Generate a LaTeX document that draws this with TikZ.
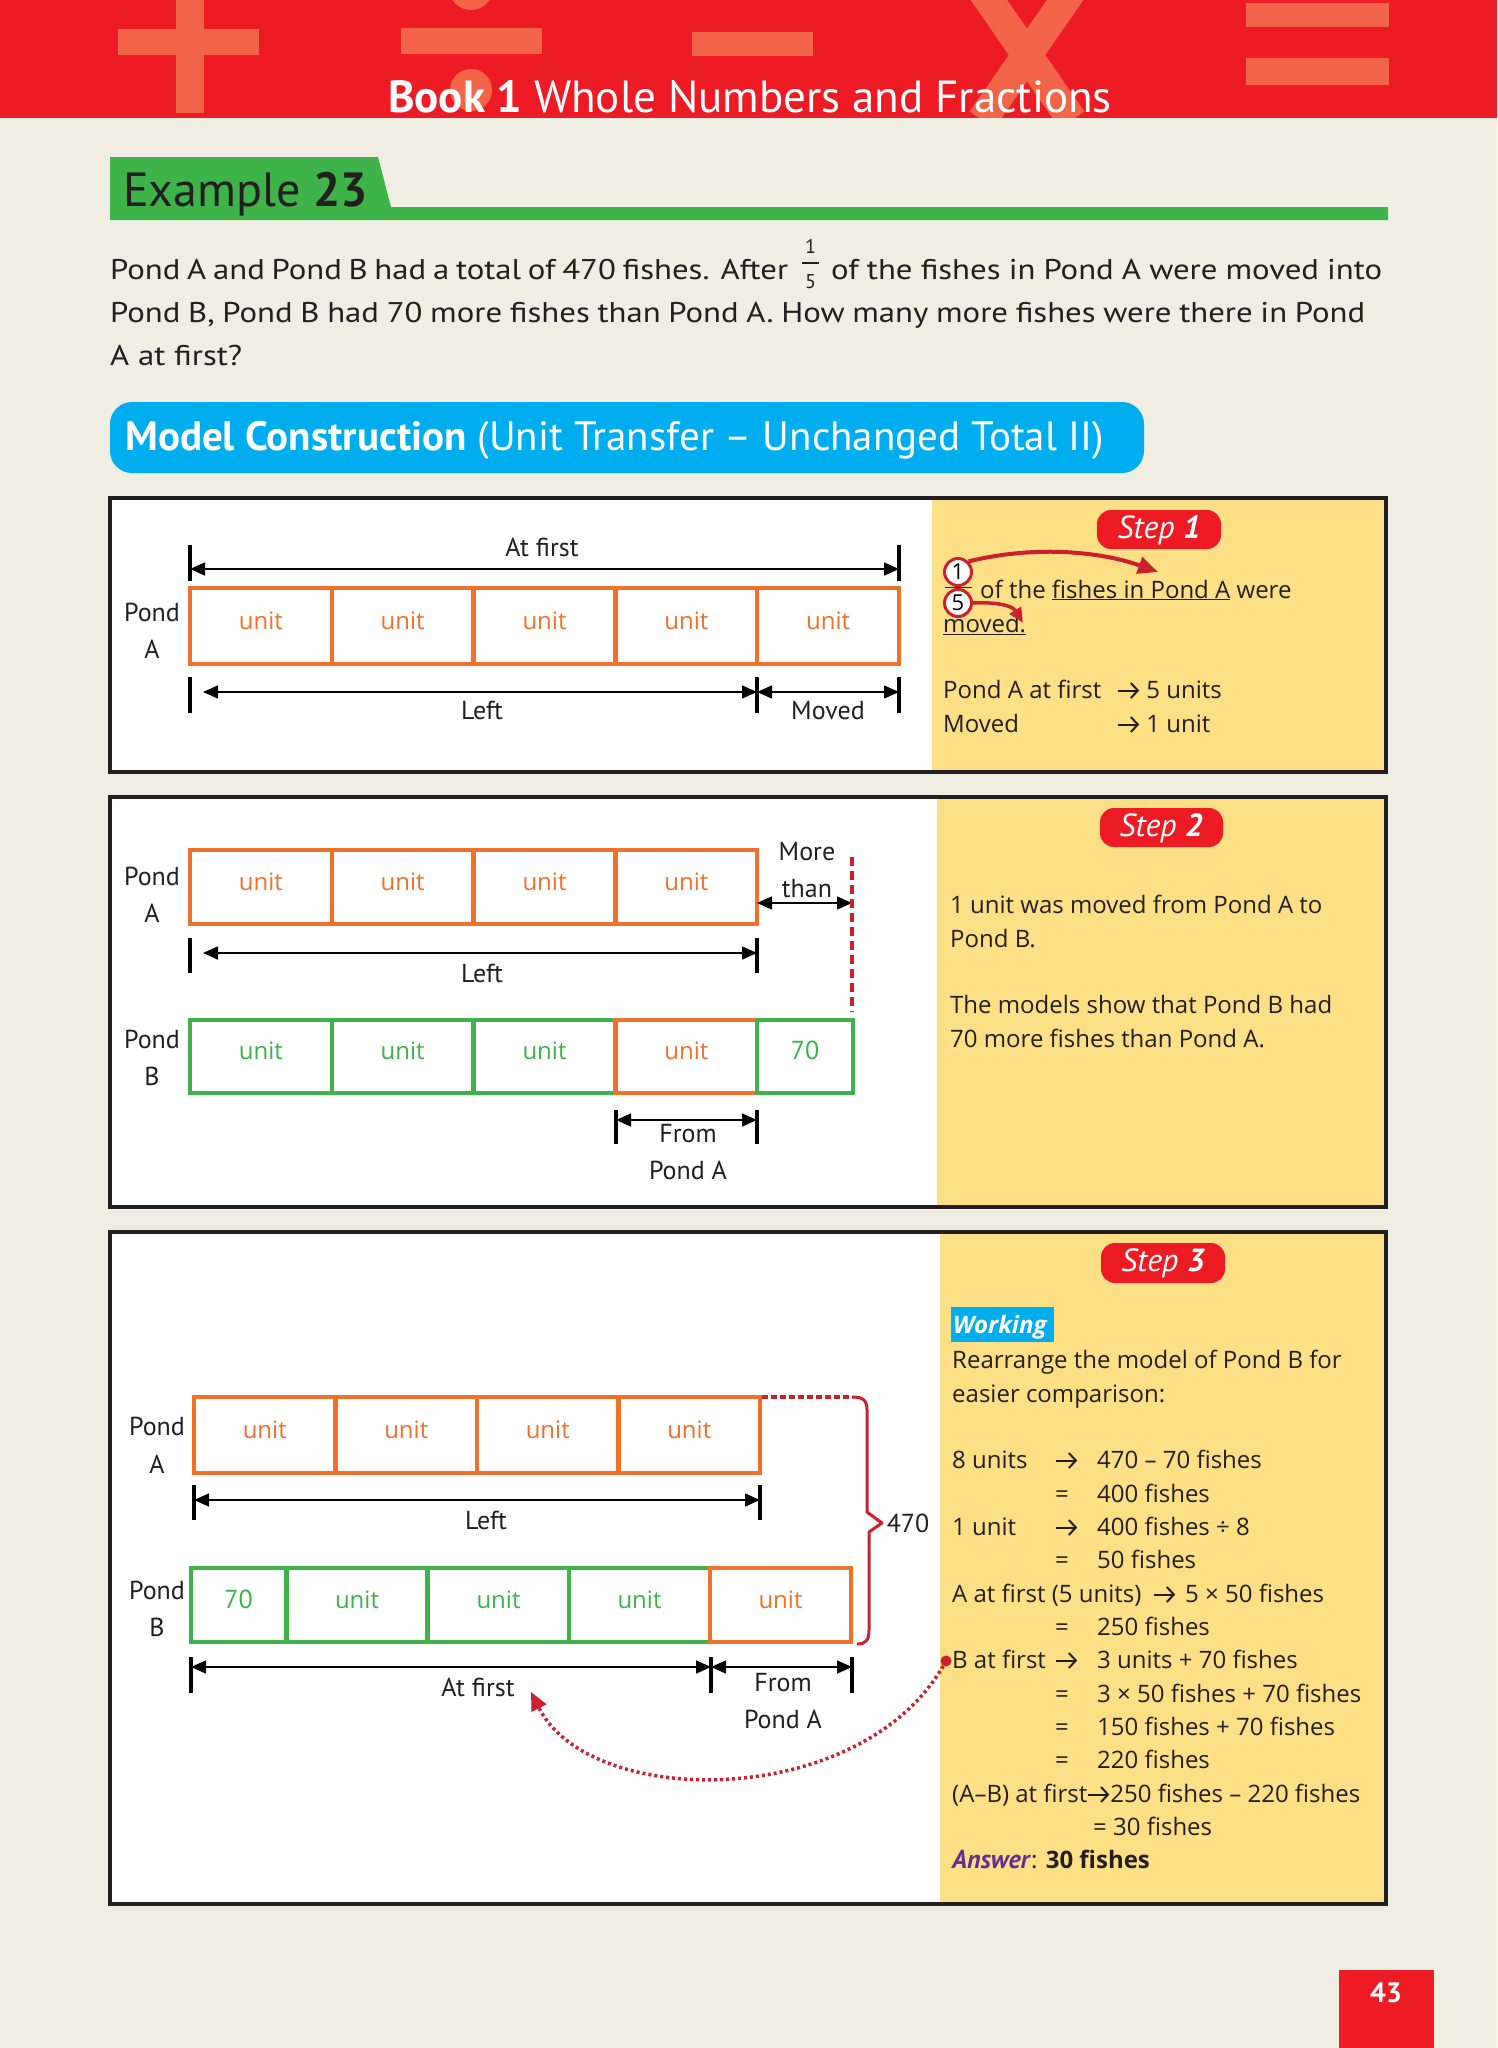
\documentclass[tikz,border=0pt]{standalone}
\usepackage{fontspec}
\setmainfont{PT Sans}
\newfontfamily\os{Open Sans}
\newfontfamily\qf[FakeStretch=1.15]{PT Sans}
\usetikzlibrary{arrows.meta}
\definecolor{bgc}{RGB}{240,238,226}
\definecolor{hred}{RGB}{237,28,36}
\definecolor{sym}{RGB}{242,101,73}
\definecolor{tgreen}{RGB}{61,179,74}
\definecolor{cblue}{RGB}{0,174,239}
\definecolor{uorange}{RGB}{242,112,40}
\definecolor{ugreen}{RGB}{61,179,74}
\definecolor{pyellow}{RGB}{253,224,133}
\definecolor{dred}{RGB}{204,32,46}
\definecolor{apurple}{RGB}{102,45,145}
\definecolor{tblack}{RGB}{35,31,32}
\newcommand\fs[2]{\fontsize{#1}{#2}\selectfont}
\newcommand\arr{\tikz[baseline=0pt,x=1pt,y=1pt]{\path (0,0) -- (23,0);\draw[line width=2pt,-{Straight Barb[length=7pt,width=15pt,line width=2pt]}] (1,7.5) -- (22,7.5);}}
\begin{document}
\begin{tikzpicture}[x=1pt,y=-1pt,
  ubox/.style={draw, line width=4.5pt, inner sep=0pt, minimum height=76pt, font=\os\fs{24}{28}, text height=18pt, text depth=12pt},
  obox/.style={ubox, draw=uorange, text=uorange, minimum width=141.8pt},
  gbox/.style={ubox, draw=ugreen, text=ugreen, minimum width=141.8pt},
  lbl/.style={font=\fs{26}{37}, align=center, inner sep=0pt, text=tblack},
  dimarr/.style={line width=1.5pt, {Triangle[length=15pt,width=13pt]}-{Triangle[length=15pt,width=13pt]}},
  tickln/.style={line width=3.5pt},
  stxt/.style={font=\os\fs{24}{33}, anchor=base west, inner sep=0pt, text=tblack},
  qtxt/.style={font=\qf\fs{28.5}{43}, anchor=base west, inner sep=0pt, text=tblack},
  steppill/.style={fill=hred, rounded corners=14pt},
  pilltxt/.style={white, font=\fs{32}{32}, inner sep=0pt},
  panelbox/.style={line width=3.5pt, draw=tblack},
  redarr/.style={dred, line width=4pt, -{Triangle[length=20pt,width=17pt]}},
  dotarr/.style={dred, line width=3.5pt, dash pattern=on 3pt off 3pt, -{Triangle[length=18pt,width=16pt]}},
]
\useasboundingbox (0,0) rectangle (1497,2048);
\fill[bgc] (0,0) rectangle (1497,2048);
% ---------------- header
\fill[hred] (0,0) rectangle (1497,118);
\begin{scope}
\clip (0,0) rectangle (1497,117);
\fill[sym] (118,29) rectangle (259,55);
\fill[sym] (176,0) rectangle (204,113);
\fill[sym] (401,28) rectangle (542,54);
\fill[sym] (471,-12) circle[radius=22];
\fill[sym] (471,90) circle[radius=21];
\fill[sym] (692,32) rectangle (813,56);
\draw[sym, line width=30pt] (982,-10) -- (1072,120) (1072,-10) -- (982,120);
\fill[sym] (1246,3) rectangle (1389,27);
\fill[sym] (1246,58) rectangle (1389,85);
\end{scope}
\node[white, font=\fs{45}{45}, anchor=base, inner sep=0pt] (hdr) at (750,112) {\textbf{Book 1} Whole Numbers and Fractions};
% ---------------- example tab
\fill[tgreen] (110,157) -- (378,157) -- (391,207) -- (1388,207) -- (1388,220) -- (110,220) -- cycle;
\node[anchor=base west, inner sep=0pt, font=\fs{48}{48}, text=tblack] (ex) at (123,206) {Example \textbf{23}};
% ---------------- question
\node[qtxt] (q1a) at (110,279) {\makebox[678pt][s]{Pond A and Pond B had a total of 470 fishes. After}};
\node[anchor=base, inner sep=0pt, font=\fs{20}{20}, text=tblack] (fn) at (810.5,253) {1};
\node[anchor=base, inner sep=0pt, font=\fs{20}{20}, text=tblack] (fd) at (810.5,288) {5};
\draw[line width=1.2pt, tblack] (802,263) -- (819,263);
\node[qtxt] (q1b) at (831,279) {\makebox[551pt][s]{of the fishes in Pond A were moved into}};
\node[qtxt] (q2) at (110,322) {\makebox[1255pt][s]{Pond B, Pond B had 70 more fishes than Pond A. How many more fishes were there in Pond}};
\node[qtxt] (q3) at (110,365) {A at first?};
% ---------------- model construction pill
\fill[cblue, rounded corners=22pt] (110,402) rectangle (1144,473);
\node[anchor=base west, inner sep=0pt, white, font=\fs{41}{41}] (mc) at (125,450) {\textbf{Model Construction} (Unit Transfer – Unchanged Total II)};
% =============== PANEL 1
\fill[white] (110,498) rectangle (932,772);
\fill[pyellow] (932,498) rectangle (1386,772);
\draw[panelbox] (110,498) rectangle (1386,772);
\foreach \i/\x in {1/260.9,2/402.7,3/544.5,4/686.3,5/828.1}
  \node[obox, minimum height=76pt] (pa\i) at (\x,626) {unit};
\node[lbl] (p1la) at (152,631) {Pond\\A};
\draw[tickln] (190,545) -- (190,581); \draw[tickln] (899,545) -- (899,581);
\coordinate (af1l) at (190,569); \coordinate (af1r) at (899,569);
\draw[dimarr] (af1l) -- (af1r);
\node[lbl, anchor=base] (af1t) at (542,556) {At first};
\draw[tickln] (190,677) -- (190,713); \draw[tickln] (757,677) -- (757,713); \draw[tickln] (899,677) -- (899,713);
\coordinate (lf1l) at (203,692); \coordinate (lf1r) at (757,692); \coordinate (mv1r) at (899,692);
\draw[dimarr] (lf1l) -- (lf1r);
\draw[dimarr] (lf1r) -- (mv1r);
\node[lbl, anchor=base] (lf1t) at (482,719) {Left};
\node[lbl, anchor=base] (mv1t) at (828,719) {Moved};
% step 1
\fill[steppill] (1097,510) rectangle (1221,549);
\node[pilltxt] (s1) at (1159,530) {\textit{Step} \textbf{\textit{1}}};
\node[circle, draw=dred, line width=3pt, fill=white, minimum size=27pt, inner sep=0pt, font=\os\fs{22}{22}] (c1) at (958,572) {1};
\node[circle, draw=dred, line width=3pt, fill=white, minimum size=27pt, inner sep=0pt, font=\os\fs{22}{22}] (c5) at (958,603) {5};
\draw[line width=1.3pt, tblack] (945,587.5) -- (972,587.5);
\node[stxt] (s1a) at (980,598) {of the \underline{fishes in Pond A} were};
\node[stxt] (s1b) at (943,632) {\underline{moved.}};
\coordinate (s1tip) at (1158,572);
\draw[redarr] (c1.north east) .. controls (1040,544) and (1105,553) .. (s1tip);
\coordinate (s1tip2) at (1023,623);
\draw[dred, line width=3.5pt, -{Triangle[length=15pt,width=13pt]}] (c5.east) .. controls (995,602) and (1012,605) .. (s1tip2);
\node[stxt] (s1c) at (943,698) {Pond A at first};
\node[stxt] (s1d) at (1117,698) {\arr\ 5 units};
\node[stxt] (s1e) at (943,732) {Moved};
\node[stxt] (s1f) at (1117,732) {\arr\ 1 unit};
% =============== PANEL 2
\fill[white] (110,797) rectangle (937,1207);
\fill[pyellow] (937,797) rectangle (1386,1207);
\draw[panelbox] (110,797) rectangle (1386,1207);
\foreach \i/\x in {1/260.9,2/402.7,3/544.5,4/686.3}
  \node[obox, minimum height=74pt] (qa\i) at (\x,887) {unit};
\node[lbl] (p2la) at (152,895) {Pond\\A};
\node[lbl] (mt) at (807,870) {More\\than};
\coordinate (mtl) at (757,903); \coordinate (mtr) at (852,903);
\draw[dimarr] (mtl) -- (mtr);
\draw[dred, line width=3.5pt, dash pattern=on 9pt off 5pt] (852,857) -- (852,1012);
\draw[tickln] (190,938) -- (190,973); \draw[tickln] (757,938) -- (757,973);
\coordinate (lf2l) at (203,953); \coordinate (lf2r) at (757,953);
\draw[dimarr] (lf2l) -- (lf2r);
\node[lbl, anchor=base] (lf2t) at (482,982) {Left};
\foreach \i/\x in {1/260.9,2/402.7,3/544.5}
  \node[gbox, minimum height=73pt] (qb\i) at (\x,1056.5) {unit};
\node[obox, minimum height=73pt] (qb4) at (686.3,1056.5) {unit};
\node[gbox, minimum height=73pt, minimum width=96pt, font=\fs{26}{28}] (qb5) at (805,1056.5) {70};
\node[lbl] (p2lb) at (152,1058) {Pond\\B};
\draw[tickln] (616,1110) -- (616,1144); \draw[tickln] (757,1110) -- (757,1144);
\coordinate (fp2l) at (616,1120); \coordinate (fp2r) at (757,1120);
\draw[dimarr] (fp2l) -- (fp2r);
\node[lbl, anchor=north] (fp2t) at (688,1124) {From\\Pond A};
% step 2
\fill[steppill] (1100,808) rectangle (1223,847);
\node[pilltxt] (s2) at (1161,828) {\textit{Step} \textbf{\textit{2}}};
\node[stxt] (s2a) at (950,913) {1 unit was moved from Pond A to};
\node[stxt] (s2b) at (950,947) {Pond B.};
\node[stxt] (s2c) at (950,1013) {The models show that Pond B had};
\node[stxt] (s2d) at (950,1047) {70 more fishes than Pond A.};
% =============== PANEL 3
\fill[white] (110,1232) rectangle (940,1904);
\fill[pyellow] (940,1232) rectangle (1386,1904);
\draw[panelbox] (110,1232) rectangle (1386,1904);
\foreach \i/\x in {1/264.75,2/406.25,3/547.75,4/689.25}
  \node[obox, minimum width=141.5pt] (ra\i) at (\x,1435) {unit};
\node[lbl, font=\fs{26}{38}] (p3la) at (157,1445) {Pond\\A};
\draw[dred, line width=4pt, dash pattern=on 6pt off 3pt] (762,1397) -- (852,1397);
\draw[dred, line width=3pt, line join=round] (852,1397) .. controls (863,1397) and (867,1400) .. (867,1410) -- (867,1512) -- (882,1523) -- (869,1532) -- (869,1630) .. controls (869,1640) and (866,1644) .. (857,1644);
\node[lbl] (tot) at (908,1523) {470};
\draw[tickln] (194,1485) -- (194,1520); \draw[tickln] (760,1485) -- (760,1520);
\coordinate (lf3l) at (194,1500); \coordinate (lf3r) at (760,1500);
\draw[dimarr] (lf3l) -- (lf3r);
\node[lbl, anchor=base] (lf3t) at (486,1529) {Left};
\node[gbox, minimum height=74pt, minimum width=95pt, font=\fs{26}{28}] (rb1) at (238.5,1605) {70};
\foreach \i/\x in {2/357,3/498.5,4/639.5}
  \node[gbox, minimum height=74pt, minimum width=141.3pt] (rb\i) at (\x,1605) {unit};
\node[obox, minimum height=74pt, minimum width=141pt] (rb5) at (780.5,1605) {unit};
\node[lbl, font=\fs{26}{37}] (p3lb) at (157,1609) {Pond\\B};
\draw[tickln] (191,1657) -- (191,1693); \draw[tickln] (711,1657) -- (711,1693); \draw[tickln] (852,1657) -- (852,1693);
\coordinate (af3l) at (191,1667); \coordinate (af3r) at (711,1667); \coordinate (fp3r) at (852,1667);
\draw[dimarr] (af3l) -- (af3r);
\draw[dimarr] (af3r) -- (fp3r);
\node[lbl, anchor=base] (af3t) at (478,1696) {At first};
\node[lbl, anchor=north] (fp3t) at (783,1673) {From\\Pond A};
% step 3
\fill[steppill] (1101,1243) rectangle (1225,1283);
\node[pilltxt] (s3) at (1163,1263) {\textit{Step} \textbf{\textit{3}}};
\fill[cblue] (951,1307) rectangle (1054,1342);
\node[stxt, text=white] (wk) at (953,1333) {\textbf{\textit{Working}}};
\node[stxt] (r1) at (952,1368) {Rearrange the model of Pond B for};
\node[stxt] (r2) at (952,1402) {easier comparison:};
\node[stxt] (w1a) at (952,1468) {8 units};
\node[stxt] (w1b) at (1055,1468) {\arr};
\node[stxt] (w1c) at (1097,1468) {470 – 70 fishes};
\node[stxt, anchor=base] (w2b) at (1062,1502) {=};
\node[stxt] (w2c) at (1097,1502) {400 fishes};
\node[stxt] (w3a) at (952,1535) {1 unit};
\node[stxt] (w3b) at (1055,1535) {\arr};
\node[stxt] (w3c) at (1097,1535) {400 fishes ÷ 8};
\node[stxt, anchor=base] (w4b) at (1062,1568) {=};
\node[stxt] (w4c) at (1097,1568) {50 fishes};
\node[stxt] (w5a) at (952,1602) {A at first (5 units)};
\node[stxt] (w5b) at (1153,1602) {\arr};
\node[stxt] (w5c) at (1185,1602) {5 × 50 fishes};
\node[stxt, anchor=base] (w6b) at (1062,1635) {=};
\node[stxt] (w6c) at (1097,1635) {250 fishes};
\node[stxt] (w7a) at (952,1668) {B at first};
\node[stxt] (w7b) at (1055,1668) {\arr};
\node[stxt] (w7c) at (1097,1668) {3 units + 70 fishes};
\node[stxt, anchor=base] (w8b) at (1062,1702) {=};
\node[stxt] (w8c) at (1097,1702) {3 × 50 fishes + 70 fishes};
\node[stxt, anchor=base] (w9b) at (1062,1735) {=};
\node[stxt] (w9c) at (1097,1735) {150 fishes + 70 fishes};
\node[stxt, anchor=base] (w10b) at (1062,1768) {=};
\node[stxt] (w10c) at (1097,1768) {220 fishes};
\node[stxt] (w11) at (952,1802) {(A–B) at first\arr250 fishes – 220 fishes};
\node[stxt] (w12) at (1093,1835) {= 30 fishes};
\node[stxt] (ans) at (952,1868) {{\rmfamily\color{apurple}\fs{26}{26}\textbf{\textit{Answer}}}: \textbf{30 fishes}};
\node[circle, fill=dred, minimum size=11pt, inner sep=0pt] (rdot) at (946,1661) {};
\coordinate (atip) at (531,1692);
\draw[dotarr] (rdot) .. controls (860,1810) and (590,1810) .. (atip);
% ---------------- page number
\fill[hred] (1339,1970) rectangle (1434,2048);
\node[white, anchor=base, inner sep=0pt, font=\fs{28}{28}] (pg) at (1386,2002) {\textbf{43}};
\end{tikzpicture}
\end{document}
